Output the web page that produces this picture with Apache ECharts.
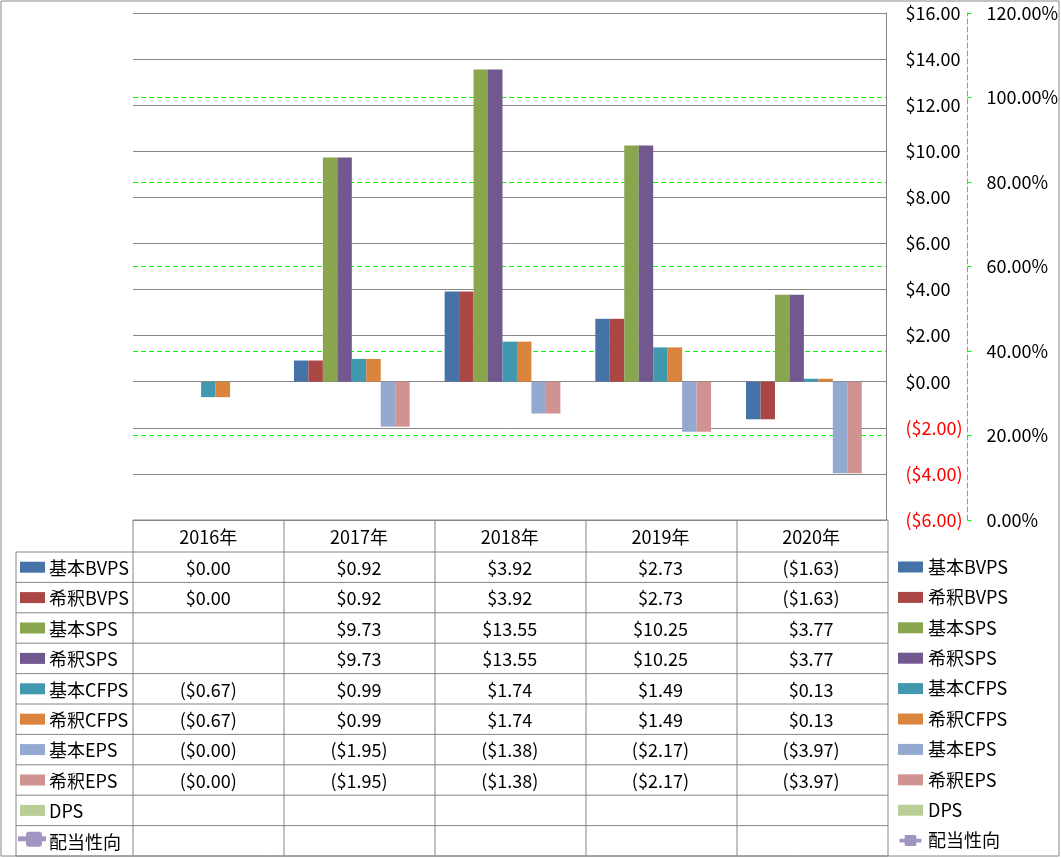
<!DOCTYPE html>
<html>
<head>
<meta charset="utf-8">
<script src="https://cdn.jsdelivr.net/npm/echarts@6/dist/echarts.min.js"></script>
<style>
html,body{margin:0;padding:0;background:#fff;}
#c{width:1061px;height:858px;}
</style>
</head>
<body>
<div id="c"></div>
<script>
const categories = ['2016年', '2017年', '2018年', '2019年', '2020年'];
const basicBVPS   = [0.00, 0.92, 3.92, 2.73, -1.63];
const dilutedBVPS = [0.00, 0.92, 3.92, 2.73, -1.63];
const basicSPS    = [null, 9.73, 13.55, 10.25, 3.77];
const dilutedSPS  = [null, 9.73, 13.55, 10.25, 3.77];
const basicCFPS   = [-0.67, 0.99, 1.74, 1.49, 0.13];
const dilutedCFPS = [-0.67, 0.99, 1.74, 1.49, 0.13];
const basicEPS    = [-0.004, -1.95, -1.38, -2.17, -3.97];
const dilutedEPS  = [-0.004, -1.95, -1.38, -2.17, -3.97];
const dps         = [null, null, null, null, null];
const payoutRatio = [null, null, null, null, null];
const seriesNames = ['基本BVPS', '希釈BVPS', '基本SPS', '希釈SPS', '基本CFPS', '希釈CFPS', '基本EPS', '希釈EPS', 'DPS', '配当性向'];
const seriesColors = ['#4572a7', '#aa4643', '#89a54e', '#71588f', '#4198af', '#db843d', '#93a9cf', '#d19392', '#b9cd96', '#a395c2'];
const barData = [basicBVPS, dilutedBVPS, basicSPS, dilutedSPS, basicCFPS, dilutedCFPS, basicEPS, dilutedEPS, dps];
const leftAxis = { min: -6, max: 16, interval: 2 };
const rightAxis = { min: 0, max: 1.2, interval: 0.2 };

const FONT = '"Noto Sans CJK JP", "Noto Sans", sans-serif';
const FS = 18;
const GRID_L = 133, GRID_R = 888, GRID_T = 13, GRID_B = 520;
const HEADER_H = 32, ROW_H = 30.4, TABLE_LEFT = 16;
const GRAY = '#868686';
const LINE_ICON = 'path://M0,5L7,5L7,2Q7,0,9,0L21,0Q23,0,23,2L23,5L30,5L30,10L23,10L23,13Q23,15,21,15L9,15Q7,15,7,13L7,10L0,10Z';

function money(v) {
  if (v === null || v === undefined) return '';
  const s = '$' + Math.abs(v).toFixed(2);
  return v < 0 ? '(' + s + ')' : s;
}

const chart = echarts.init(document.getElementById('c'), null, { renderer: 'canvas' });

const series = barData.map((d, i) => ({
  name: seriesNames[i],
  type: 'bar',
  data: d,
  barGap: '0%',
  barCategoryGap: '13.6%',
  itemStyle: { color: seriesColors[i] },
  yAxisIndex: 0
}));
series.push({
  name: seriesNames[9],
  type: 'line',
  data: payoutRatio,
  yAxisIndex: 1,
  symbol: 'roundRect',
  symbolSize: 14,
  lineStyle: { color: seriesColors[9], width: 5 },
  itemStyle: { color: seriesColors[9] }
});

chart.setOption({
  animation: false,
  backgroundColor: '#fff',
  textStyle: { fontFamily: FONT },
  grid: { left: GRID_L, right: 1061 - GRID_R, top: GRID_T, bottom: 858 - GRID_B, containLabel: false },
  xAxis: {
    type: 'category',
    data: categories,
    axisLine: { show: false },
    axisTick: { show: false },
    axisLabel: { show: false },
    splitLine: { show: false }
  },
  yAxis: [
    {
      type: 'value',
      position: 'right',
      min: leftAxis.min, max: leftAxis.max, interval: leftAxis.interval,
      axisLine: { show: true, lineStyle: { color: GRAY, width: 1 } },
      axisTick: { show: false },
      axisLabel: {
        margin: 19,
        fontFamily: FONT, fontSize: FS,
        formatter: v => money(v),
        color: v => (v < 0 ? '#ff0000' : '#000')
      },
      splitLine: { show: true, lineStyle: { color: GRAY, width: 1 } }
    },
    {
      type: 'value',
      position: 'right',
      offset: 81,
      min: rightAxis.min, max: rightAxis.max, interval: rightAxis.interval,
      axisLine: { show: true, lineStyle: { color: '#00ff00', width: 1, type: [5, 3] } },
      axisTick: { show: true, length: 4, lineStyle: { color: '#00ff00', width: 1 } },
      axisLabel: {
        margin: 19,
        fontFamily: FONT, fontSize: FS, color: '#000',
        formatter: v => (v * 100).toFixed(2) + '%'
      },
      splitLine: { show: true, showMinLine: false, showMaxLine: false, lineStyle: { color: '#00ff00', width: 1, type: [5, 3] } }
    }
  ],
  legend: {
    show: true,
    orient: 'vertical',
    left: 898,
    top: 557,
    height: 301,
    padding: 0,
    itemWidth: 25,
    itemHeight: 11,
    itemGap: 10.4,
    selectedMode: false,
    textStyle: { fontFamily: FONT, fontSize: FS, color: '#000', lineHeight: 20 },
    data: seriesNames.map((n, i) => (i < 9 ? { name: n, icon: 'rect' } : { name: n, icon: LINE_ICON }))
  },
  series: series
});

// Data table drawn below the plot, aligned with category axis
const g = [];
g.push({ type: 'rect', silent: true, shape: { x: 1, y: 1, width: 1058, height: 855 }, style: { fill: 'none', stroke: GRAY, lineWidth: 1 }, z: 100 });
const rowsTop = GRID_B + HEADER_H;
const nRows = seriesNames.length;
const tableBottom = rowsTop + nRows * ROW_H;
const bounds = [];
for (let i = 0; i <= categories.length; i++) bounds.push(GRID_L + (GRID_R - GRID_L) * i / categories.length);
bounds.forEach(x => g.push({ type: 'line', silent: true, shape: { x1: x, y1: GRID_B, x2: x, y2: tableBottom }, style: { stroke: GRAY, lineWidth: 1 }, z: 100 }));
g.push({ type: 'line', silent: true, shape: { x1: TABLE_LEFT, y1: rowsTop, x2: TABLE_LEFT, y2: tableBottom }, style: { stroke: GRAY, lineWidth: 1 }, z: 100 });
g.push({ type: 'line', silent: true, shape: { x1: GRID_L, y1: GRID_B, x2: GRID_R, y2: GRID_B }, style: { stroke: GRAY, lineWidth: 1 }, z: 100 });
for (let r = 0; r <= nRows; r++) {
  const y = rowsTop + r * ROW_H;
  g.push({ type: 'line', silent: true, shape: { x1: TABLE_LEFT, y1: y, x2: GRID_R, y2: y }, style: { stroke: GRAY, lineWidth: 1 }, z: 100 });
}
categories.forEach((c, i) => {
  const cx = chart.convertToPixel({ xAxisIndex: 0 }, i);
  g.push({ type: 'text', silent: true, style: { text: c, x: cx, y: GRID_B + HEADER_H / 2 + 1, align: 'center', verticalAlign: 'middle', font: FS + 'px ' + FONT, fill: '#000' }, z: 101 });
});
const rowData = barData.concat([payoutRatio]);
seriesNames.forEach((n, r) => {
  const cy = rowsTop + r * ROW_H + ROW_H / 2;
  if (r < 9) {
    g.push({ type: 'rect', silent: true, shape: { x: 20, y: cy - 5.5, width: 25, height: 11 }, style: { fill: seriesColors[r] }, z: 101 });
  } else {
    g.push({ type: 'line', silent: true, shape: { x1: 18, y1: cy - 2, x2: 46, y2: cy - 2 }, style: { stroke: seriesColors[r], lineWidth: 5 }, z: 101 });
    g.push({ type: 'rect', silent: true, shape: { x: 26, y: cy - 9, width: 16, height: 15, r: 3 }, style: { fill: seriesColors[r] }, z: 102 });
  }
  g.push({ type: 'text', silent: true, style: { text: n, x: 49, y: cy + 1, align: 'left', verticalAlign: 'middle', font: FS + 'px ' + FONT, fill: '#000' }, z: 101 });
  rowData[r].forEach((v, i) => {
    const cx = chart.convertToPixel({ xAxisIndex: 0 }, i);
    const txt = r === 9 ? (v == null ? '' : (v * 100).toFixed(2) + '%') : money(v);
    if (txt) g.push({ type: 'text', silent: true, style: { text: txt, x: cx, y: cy + 1, align: 'center', verticalAlign: 'middle', font: FS + 'px ' + FONT, fill: '#000' }, z: 101 });
  });
});
chart.setOption({ graphic: g });
</script>
</body>
</html>
